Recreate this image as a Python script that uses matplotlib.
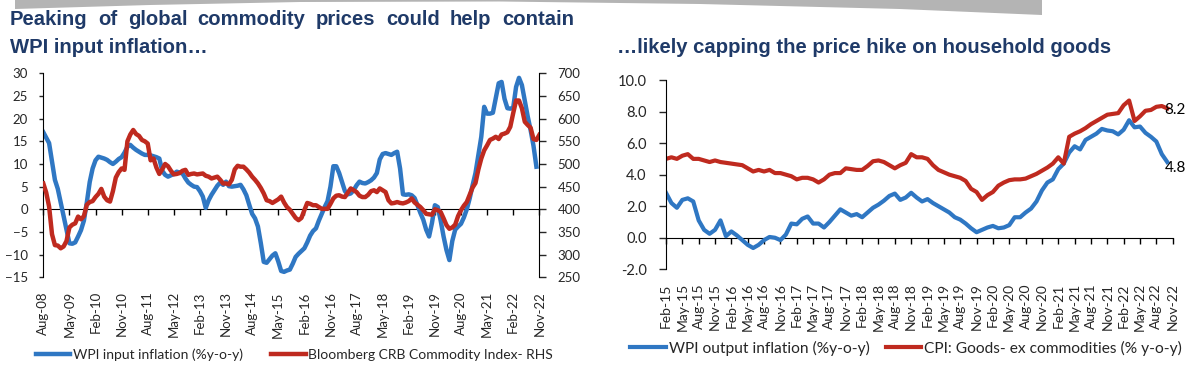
import numpy as np
import matplotlib
matplotlib.use('Agg')
import matplotlib.pyplot as plt
from matplotlib.patches import Polygon

# ---- left chart: monthly, Aug-08 onwards ----
wpi_input = [
    17.0, 15.8, 14.6, 10.5, 6.5, 4.5, 1.5, -1.5, -4.5, -7.5, -7.6, -7.3,
    -6.0, -4.6, -2.5, 1.5, 6.0, 9.0, 10.8, 11.6, 11.4, 11.2, 10.9, 10.4,
    10.0, 10.5, 11.1, 11.5, 12.5, 13.8, 14.2, 13.6, 13.1, 12.7, 12.3, 12.0,
    12.0, 11.9, 11.7, 11.5, 11.2, 8.5, 7.6, 7.2, 7.5, 7.8, 8.3, 8.1,
    7.9, 6.8, 5.9, 5.4, 5.0, 4.9, 4.0, 2.8, 0.3, 2.0, 3.2, 4.2,
    5.2, 5.9, 5.4, 6.1, 5.1, 5.0, 5.1, 5.2, 5.4, 4.4, 3.1, 1.0,
    -1.0, -2.0, -3.8, -7.5, -11.6, -11.8, -11.0, -10.2, -9.7, -11.5, -13.6, -13.8,
    -13.5, -13.3, -12.0, -10.5, -9.8, -9.2, -8.6, -7.3, -5.8, -4.8, -4.2, -2.5,
    -1.0, 0.5, 1.8, 5.0, 9.5, 9.5, 8.0, 6.0, 4.0, 3.3, 3.5, 4.2,
    5.3, 6.1, 5.8, 5.7, 6.0, 6.4, 7.0, 8.0, 11.0, 12.2, 12.4, 12.2,
    12.0, 12.4, 12.7, 9.0, 3.3, 3.2, 3.3, 3.1, 2.5, 0.9, -0.8, -2.3,
    -4.5, -6.0, -3.0, 0.9, 0.5, -2.5, -6.0, -9.0, -11.2, -7.0, -4.5, -3.8,
    -3.2, -1.8, 0.0, 2.4, 5.3, 8.0, 12.0, 16.0, 22.6, 21.1, 21.1, 21.3,
    24.5, 27.8, 28.1, 24.4, 22.3, 22.2, 22.4, 27.0, 29.0, 27.4, 24.0, 20.5,
    17.5, 14.0, 9.4,
]
crb_index = [
    457, 437, 406, 345, 321, 320, 314, 318, 330, 360, 366, 369,
    384, 378, 385, 410, 416, 418, 427, 434, 445, 428, 420, 417,
    440, 470, 482, 490, 487, 550, 565, 575, 566, 562, 553, 550,
    545, 508, 512, 492, 478, 488, 500, 495, 485, 477, 478, 480,
    485, 487, 476, 478, 479, 477, 478, 479, 474, 472, 468, 470,
    472, 465, 457, 457, 455, 465, 488, 496, 494, 494, 488, 481,
    472, 465, 457, 447, 435, 420, 418, 414, 418, 422, 428, 415,
    405, 399, 390, 381, 376, 381, 398, 414, 412, 409, 409, 405,
    401, 401, 401, 412, 424, 430, 431, 428, 427, 437, 446, 442,
    438, 430, 427, 427, 432, 440, 442, 438, 446, 442, 438, 420,
    413, 414, 416, 414, 413, 415, 418, 424, 415, 410, 405, 398,
    390, 389, 388, 400, 398, 394, 380, 365, 357, 360, 366, 385,
    398, 408, 416, 432, 448, 458, 488, 512, 530, 541, 553, 556,
    560, 555, 565, 567, 570, 582, 612, 640, 640, 623, 593, 586,
    580, 555, 553, 564,
]
left_labels = ['Aug-08', 'May-09', 'Feb-10', 'Nov-10', 'Aug-11', 'May-12',
               'Feb-13', 'Nov-13', 'Aug-14', 'May-15', 'Feb-16', 'Nov-16',
               'Aug-17', 'May-18', 'Feb-19', 'Nov-19', 'Aug-20', 'May-21',
               'Feb-22', 'Nov-22']

# ---- right chart: monthly, Feb-15 onwards ----
wpi_output = [
    2.85, 2.2, 1.9, 2.4, 2.5, 2.3, 1.1, 0.5, 0.25, 0.5, 1.1, 0.1,
    0.4, 0.15, -0.15, -0.45, -0.65, -0.45, -0.15, 0.05, 0.0, -0.15, 0.2, 0.9,
    0.85, 1.2, 1.35, 0.9, 0.9, 0.65, 1.0, 1.4, 1.8, 1.6, 1.4, 1.5,
    1.3, 1.6, 1.9, 2.1, 2.35, 2.65, 2.8, 2.4, 2.55, 2.85, 2.55, 2.3,
    2.45, 2.2, 2.0, 1.8, 1.6, 1.3, 1.15, 0.9, 0.6, 0.35, 0.5, 0.65,
    0.75, 0.6, 0.65, 0.8, 1.3, 1.3, 1.6, 1.85, 2.3, 3.0, 3.5, 3.7,
    4.35, 4.7, 5.4, 5.8, 5.6, 6.2, 6.4, 6.6, 6.9, 6.8, 6.75, 6.55,
    6.85, 7.45, 7.0, 7.05, 6.65, 6.4, 6.1, 5.3, 4.8,
]
cpi_goods = [
    5.0, 5.1, 5.0, 5.2, 5.3, 5.0, 5.0, 4.9, 4.8, 4.9, 4.8, 4.75,
    4.7, 4.65, 4.6, 4.4, 4.2, 4.3, 4.2, 4.3, 4.1, 4.1, 4.0, 3.9,
    3.7, 3.8, 3.8, 3.7, 3.5, 3.7, 4.0, 4.1, 4.1, 4.4, 4.35, 4.3,
    4.3, 4.55, 4.85, 4.9, 4.8, 4.6, 4.4, 4.6, 4.75, 5.3, 5.1, 5.1,
    5.0, 4.6, 4.3, 4.15, 4.0, 3.9, 3.8, 3.6, 3.1, 2.9, 2.4, 2.7,
    2.9, 3.3, 3.5, 3.65, 3.7, 3.7, 3.75, 3.9, 4.05, 4.25, 4.45, 4.7,
    5.1, 4.7, 6.4, 6.6, 6.75, 6.95, 7.2, 7.4, 7.6, 7.8, 7.85, 7.9,
    8.4, 8.7, 7.4, 7.7, 8.05, 8.1, 8.3, 8.35, 8.2,
]
right_labels = ['Feb-15', 'May-15', 'Aug-15', 'Nov-15', 'Feb-16', 'May-16',
                'Aug-16', 'Nov-16', 'Feb-17', 'May-17', 'Aug-17', 'Nov-17',
                'Feb-18', 'May-18', 'Aug-18', 'Nov-18', 'Feb-19', 'May-19',
                'Aug-19', 'Nov-19', 'Feb-20', 'May-20', 'Aug-20', 'Nov-20',
                'Feb-21', 'May-21', 'Aug-21', 'Nov-21', 'Feb-22', 'May-22',
                'Aug-22', 'Nov-22']

BLUE = '#2f77c3'
RED = '#bf2a1f'
NAVY = '#1f3a68'
TXT = '#262626'
plt.rcParams['font.family'] = ['Lato', 'DejaVu Sans']

W, H = 1200, 383
fig = plt.figure(figsize=(12, 3.83), dpi=100)


def box(x0, y0, x1, y1):
    return [x0 / W, 1 - y1 / H, (x1 - x0) / W, (y1 - y0) / H]


# grey slide decoration at the top
deco = [(15, 0), (1042, 0), (1042, 15), (900, 9), (700, 4), (500, 1.5),
        (300, 2), (150, 5), (15, 9)]
fig.patches.append(Polygon([(x / W, 1 - y / H) for x, y in deco], closed=True,
                           transform=fig.transFigure, facecolor='#b4b4b4',
                           edgecolor='none'))

# titles (first line justified like the slide)
tfont = dict(family='Liberation Sans', weight='bold', color=NAVY, fontsize=14.6)
renderer = fig.canvas.get_renderer()
words = 'Peaking of global commodity prices could help contain'.split()
wtexts = [fig.text(0, 1 - 25 / H, w, va='baseline', ha='left', **tfont) for w in words]
widths = [t.get_window_extent(renderer).width for t in wtexts]
gap = (574 - 10 - sum(widths)) / (len(words) - 1)
xcur = 10
for t, wd in zip(wtexts, widths):
    t.set_x(xcur / W)
    xcur += wd + gap
fig.text(10 / W, 1 - 53 / H, 'WPI input inflation…', va='baseline', ha='left', **tfont)
fig.text(617 / W, 1 - 53 / H, '…likely capping the price hike on household goods',
         va='baseline', ha='left', **tfont)

# ---------------- left chart ----------------
ax1 = fig.add_axes(box(43.3, 73.3, 539.3, 277.3))
ax1b = ax1.twinx()
ax1.plot(np.arange(len(wpi_input)), wpi_input, color=BLUE, lw=3.2,
         solid_joinstyle='round', label='WPI input inflation (%y-o-y)')
ax1b.plot(np.arange(len(crb_index)), crb_index, color=RED, lw=3.2,
          solid_joinstyle='round', label='Bloomberg CRB Commodity Index- RHS')
ax1.set_xlim(0, len(crb_index) - 1)
ax1.set_ylim(-15, 30)
ax1.set_yticks(range(-15, 31, 5))
ax1b.set_ylim(250, 700)
ax1b.set_yticks(range(250, 701, 50))

lpos = np.arange(0, len(crb_index), 9)
ax1.set_xticks(lpos)
ax1.set_xticklabels(left_labels, rotation=90, fontsize=9.5, color=TXT)
ax1.tick_params(axis='x', length=0, pad=10)
ax1.tick_params(axis='y', length=3, width=1, colors=TXT, labelsize=9.5, pad=8)
ax1b.tick_params(axis='y', length=5, width=1, colors=TXT, labelsize=9.5, pad=8)
for a in (ax1, ax1b):
    a.spines['top'].set_visible(False)
    a.spines['bottom'].set_visible(False)
ax1.spines['right'].set_visible(False)
ax1.spines['left'].set_color('black')
ax1b.spines['left'].set_visible(False)
ax1b.spines['right'].set_color('black')
sec1 = ax1.secondary_xaxis(0, transform=ax1.transData)
sec1.set_xticks(lpos)
sec1.tick_params(length=4, width=1, labelbottom=False, color='black')
sec1.spines['bottom'].set_color('black')

h1, l1 = ax1.get_legend_handles_labels()
h2, l2 = ax1b.get_legend_handles_labels()
fig.legend(h1 + h2, l1 + l2, loc='center left', ncol=2, frameon=False,
           bbox_to_anchor=(30 / W, 1 - 355 / H), fontsize=10,
           handlelength=2.5, handletextpad=0.2, columnspacing=2.0,
           borderaxespad=0, labelcolor=TXT)

# ---------------- right chart ----------------
ax2 = fig.add_axes(box(666, 80, 1172.7, 269.3))
ax2.plot(np.arange(len(wpi_output)), wpi_output, color=BLUE, lw=3,
         solid_joinstyle='round', label='WPI output inflation (%y-o-y)')
ax2.plot(np.arange(len(cpi_goods)), cpi_goods, color=RED, lw=3,
         solid_joinstyle='round', label='CPI: Goods- ex commodities (% y-o-y)')
ax2.set_xlim(0, len(right_labels) * 3 - 3)
ax2.set_ylim(-2, 10)
yt = np.arange(-2, 10.1, 2)
ax2.set_yticks(yt)
ax2.set_yticklabels([f'{v:.1f}' for v in yt])
rpos = np.arange(0, len(right_labels) * 3, 3)
ax2.set_xticks(rpos)
ax2.set_xticklabels(right_labels, rotation=90, fontsize=10, color=TXT)
ax2.tick_params(axis='x', length=0, pad=10)
ax2.tick_params(axis='y', length=5, width=1, colors=TXT, labelsize=10.5, pad=9)
for s in ('top', 'right', 'bottom'):
    ax2.spines[s].set_visible(False)
ax2.spines['left'].set_color('black')
sec2 = ax2.secondary_xaxis(0, transform=ax2.transData)
sec2.set_xticks(rpos)
sec2.tick_params(length=4, width=1, labelbottom=False, color='black')
sec2.spines['bottom'].set_color('black')

ax2.annotate(f'{cpi_goods[-1]:.1f}', (len(cpi_goods) - 1, cpi_goods[-1]),
             xytext=(-2, -1), textcoords='offset points', ha='left', va='center',
             fontsize=11, color='black')
ax2.annotate(f'{wpi_output[-1]:.1f}', (len(wpi_output) - 1, wpi_output[-1]),
             xytext=(-2, -4), textcoords='offset points', ha='left', va='center',
             fontsize=11, color='black')

fig.legend(*ax2.get_legend_handles_labels(), loc='center left', ncol=2,
           frameon=False, bbox_to_anchor=(624 / W, 1 - 348 / H), fontsize=11.2,
           handlelength=2.3, handletextpad=0.2, columnspacing=1.0,
           borderaxespad=0, labelcolor=TXT)

fig.savefig('out.png', dpi=100)
